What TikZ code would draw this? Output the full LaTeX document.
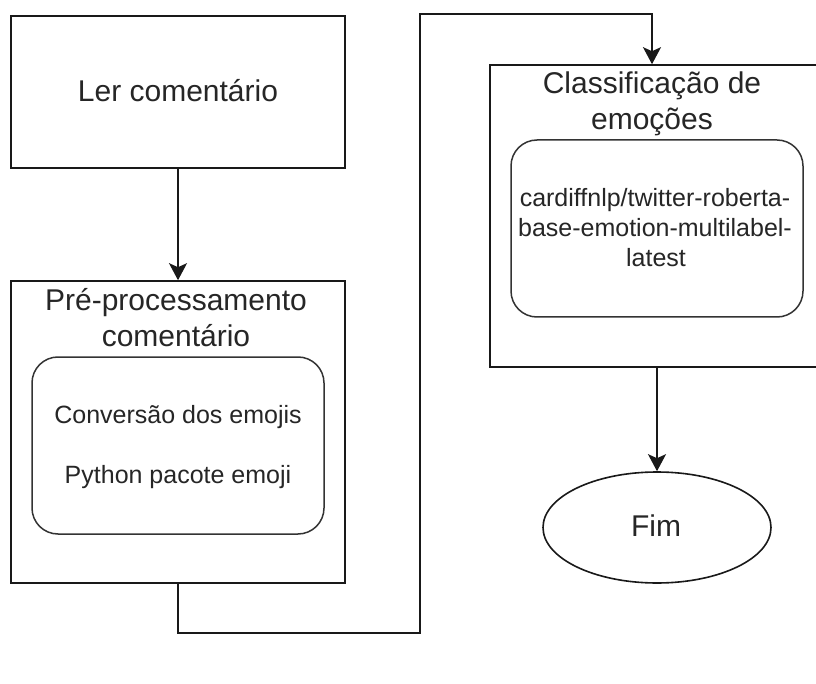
\documentclass[tikz,border=0pt]{standalone}
\usepackage{fontspec}
\setmainfont{Liberation Sans}
\usetikzlibrary{arrows.meta,shapes.geometric}
\begin{document}
\begin{tikzpicture}[x=1pt,y=-1pt,
  box/.style={draw=black!90,line width=1.6pt,rectangle,inner sep=0pt},
  inbox/.style={draw=black!80,line width=1.5pt,rectangle,rounded corners=26pt,inner sep=0pt},
  big/.style={font=\fontsize{30}{36}\selectfont,text=black!85,inner sep=0pt,anchor=base},
  small/.style={font=\fontsize{25}{30}\selectfont,text=black!85,inner sep=0pt,anchor=base},
  conn/.style={draw=black!90,line width=1.6pt},
  arr/.style={conn,-{Stealth[length=17pt,width=18pt,inset=4pt]}}]
\useasboundingbox (0,0) rectangle (816,684);
\clip (0,0) rectangle (816,684);
\fill[white] (0,0) rectangle (816,684);
% boxes
\node[box,minimum width=334pt,minimum height=152pt] (ler) at (178,92) {};
\node[big] (lert) at (178,101.5) {Ler comentário};
\node[box,minimum width=334pt,minimum height=302pt] (pre) at (178,432) {};
\node[big] (pret1) at (176,311) {Pré-processamento};
\node[big] (pret2) at (176,346.5) {comentário};
\node[inbox,minimum width=292pt,minimum height=177pt] (preIn) at (178,445.5) {};
\node[small] (conv) at (178,423) {Conversão dos emojis};
\node[small] (pyth) at (178,483) {Python pacote emoji};
\node[box,minimum width=328pt,minimum height=302pt] (cls) at (654,216) {};
\node[big] (clst1) at (652,93.5) {Classificação de};
\node[big] (clst2) at (652,129.5) {emoções};
\node[inbox,minimum width=292pt,minimum height=177pt] (clsIn) at (657,228.5) {};
\node[small] (m1) at (655,206.5) {cardiffnlp/twitter-roberta-};
\node[small] (m2) at (655,236.5) {base-emotion-multilabel-};
\node[small] (m3) at (656,266.5) {latest};
\node[ellipse,draw=black!90,line width=1.6pt,minimum width=228pt,minimum height=111pt,inner sep=0pt] (fim) at (657,527.5) {};
\node[big] (fimt) at (656,536) {Fim};
% connectors
\coordinate (c1) at (178,633);
\coordinate (c2) at (420,633);
\coordinate (c3) at (420,14);
\coordinate (c4) at (652,14);
\draw[arr] (ler.south) -- (pre.north);
\draw[arr] (pre.south) -- (c1) -- (c2) -- (c3) -- (c4) -- (c4 |- cls.north);
\draw[arr] (cls.south -| fim.north) -- (fim.north);
\end{tikzpicture}
\end{document}
